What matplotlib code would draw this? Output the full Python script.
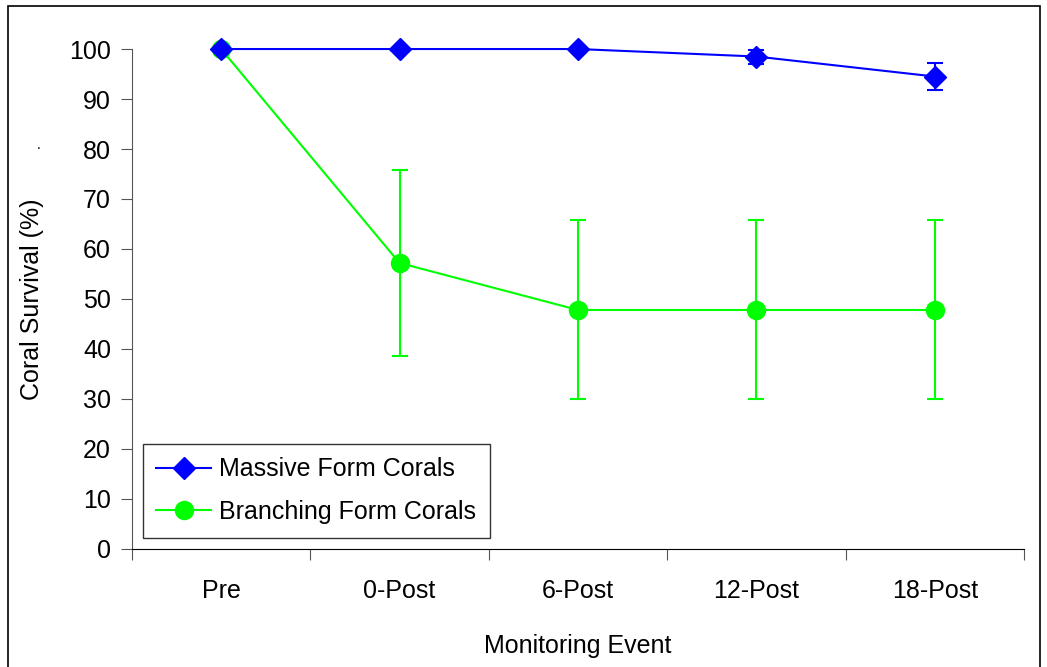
import matplotlib.pyplot as plt
from matplotlib.patches import Rectangle
from matplotlib.lines import Line2D

plt.rcParams['font.family'] = ['Liberation Sans', 'DejaVu Sans']

events = ['Pre', '0-Post', '6-Post', '12-Post', '18-Post']
massive = [100, 100, 100, 98.5, 94.5]
massive_err = [0, 0, 0, 1.4, 2.7]
branching = [100, 57.2, 47.8, 47.8, 47.8]
branching_err = [0, 18.7, 17.9, 17.9, 17.9]

fig = plt.figure(figsize=(10.47, 6.67), dpi=100)
ax = fig.add_axes([0.126, 0.177, 0.852, 0.7495])

x = range(len(events))
eb1 = ax.errorbar(x, branching, yerr=branching_err, color='#00ff00', marker='o',
                  markersize=13, lw=1.5, capsize=6, capthick=1.5, elinewidth=1.5,
                  zorder=2)
eb2 = ax.errorbar(x, massive, yerr=massive_err, color='#0000ff', marker='D',
                  markersize=11, lw=1.5, capsize=6, capthick=1.5, elinewidth=1.5,
                  zorder=3)
for eb in (eb1, eb2):
    for art in eb.get_children():
        art.set_clip_on(False)

ax.set_xlim(-0.5, 4.5)
ax.set_ylim(0, 100)
ax.set_yticks(range(0, 101, 10))
ax.set_xticks([i + 0.5 for i in range(-1, 5)])
ax.set_xticklabels([])
ax.set_xticks(list(x), events, minor=True)
ax.tick_params(axis='x', which='minor', length=0, pad=22, labelsize=18)
ax.tick_params(axis='x', which='major', length=8, direction='out', color='#555555')
ax.tick_params(axis='y', length=8, direction='out', labelsize=18, pad=7, color='#555555')

for s in ['top', 'right']:
    ax.spines[s].set_visible(False)
ax.spines['left'].set_color('#555555')
ax.spines['bottom'].set_color('black')

ax.set_ylabel('Coral Survival (%)', fontsize=18, labelpad=18)
ax.set_xlabel('Monitoring Event', fontsize=18, labelpad=22)
fig.text(0.035, 0.777, '.', fontsize=10)

handles = [
    Line2D([], [], color='#0000ff', marker='D', markersize=11, lw=1.5),
    Line2D([], [], color='#00ff00', marker='o', markersize=13, lw=1.5),
]
labels = ['Massive Form Corals', 'Branching Form Corals']
leg = ax.legend(handles, labels, loc='lower left',
                bbox_to_anchor=(0.012, 0.022), borderaxespad=0, fontsize=18,
                frameon=True, fancybox=False, edgecolor='black',
                handlelength=2.2, handletextpad=0.3, borderpad=0.55,
                labelspacing=0.75)
leg.get_frame().set_linewidth(1.0)

fig.patches.append(Rectangle((8 / 1047, -0.01), 1032 / 1047, 1 - 6 / 667 + 0.01,
                             transform=fig.transFigure, fill=False,
                             edgecolor='black', lw=1.2))

fig.savefig('out.png', dpi=100)
